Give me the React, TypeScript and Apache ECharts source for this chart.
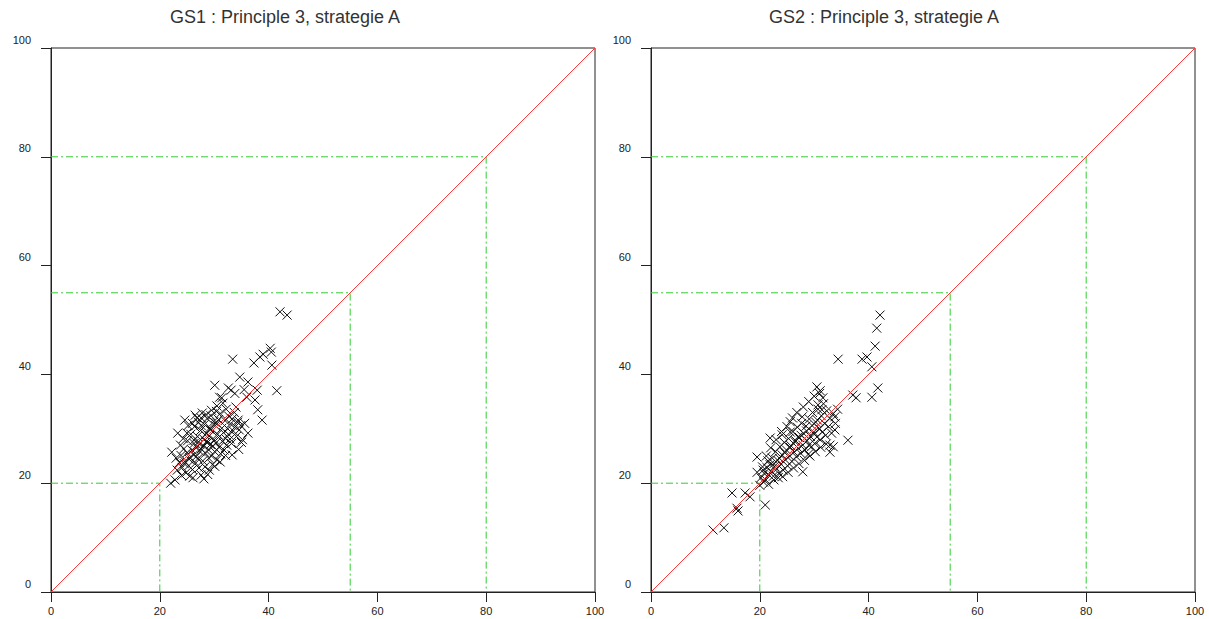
import React, { useEffect, useRef } from "react";
import * as echarts from "echarts";

const titles = ["GS1 : Principle 3, strategie A", "GS2 : Principle 3, strategie A"];
const tickValues = [0, 20, 40, 60, 80, 100];
const guideLevels = [20, 55, 80];

const gs1Points: number[][] = [
  [42.1, 51.5], [43.4, 50.9], [40.3, 44.8], [40.5, 44.1], [39.0, 43.7], [38.4, 43.2], [37.3, 42.1], [33.4, 42.8],
  [40.6, 41.7], [41.5, 37.0], [34.7, 39.5], [36.2, 38.6], [37.9, 37.1], [36.0, 35.8], [37.5, 35.3], [38.0, 33.5],
  [38.8, 31.6], [34.4, 31.6], [30.1, 38.0], [31.4, 35.7], [32.6, 37.5], [33.1, 37.1], [31.0, 35.8], [33.8, 36.5],
  [35.5, 37.2], [34.0, 34.0], [33.3, 25.2],
  [22.0, 20.0], [22.8, 20.6], [23.2, 22.4], [23.6, 23.8], [23.9, 25.1], [24.1, 22.9], [24.4, 26.3], [24.6, 24.0],
  [24.8, 21.9], [25.0, 25.6], [25.1, 27.8], [25.3, 23.2], [25.5, 24.7], [25.7, 29.0], [25.9, 26.1], [26.0, 22.5],
  [26.1, 21.0], [26.2, 25.2], [26.3, 27.3], [26.4, 30.4], [26.5, 32.5], [26.6, 23.7], [26.8, 26.6], [26.9, 28.6],
  [27.0, 24.5], [27.1, 31.2], [27.2, 22.8], [27.3, 27.2], [27.4, 25.8], [27.5, 29.7], [27.6, 32.0], [27.8, 32.9],
  [27.9, 24.1], [28.0, 26.9], [28.1, 28.1], [28.2, 30.8], [28.3, 23.0], [28.4, 25.5], [28.5, 27.6], [28.6, 29.1],
  [28.7, 31.9], [28.8, 21.6], [28.9, 26.2], [29.0, 24.6], [29.1, 28.7], [29.2, 30.2], [29.3, 27.1], [29.4, 32.4],
  [29.5, 25.0], [29.6, 29.6], [29.7, 23.4], [29.8, 26.8], [29.9, 31.3], [30.0, 28.0], [30.1, 25.8], [30.2, 30.6],
  [30.3, 27.4], [30.4, 33.2], [30.5, 24.3], [30.6, 29.0], [30.8, 31.7], [30.9, 26.6], [31.0, 28.6], [31.1, 32.8],
  [31.2, 25.4], [31.4, 30.1], [31.5, 27.7], [31.6, 34.7], [31.7, 29.3], [31.8, 26.1], [32.0, 31.5], [32.1, 28.2],
  [32.2, 33.6], [32.3, 27.0], [32.5, 30.0], [32.6, 29.0], [32.7, 32.3], [32.9, 28.1], [33.0, 30.9], [33.2, 27.3],
  [33.3, 31.8], [33.5, 29.6], [33.7, 33.0], [33.9, 30.4], [34.1, 28.6], [34.3, 31.2], [34.6, 29.8], [34.9, 30.6],
  [35.2, 28.0], [35.6, 31.0], [36.2, 29.2], [23.3, 29.2], [25.0, 29.2], [24.6, 31.6], [22.2, 25.7], [23.8, 27.0],
  [24.3, 28.2], [25.2, 30.6], [26.0, 31.0], [26.8, 32.0], [27.6, 30.6], [28.5, 32.6], [29.5, 33.4], [30.5, 34.2],
  [23.0, 24.6], [24.0, 21.4], [25.5, 21.3], [27.6, 21.5], [28.1, 20.8], [29.1, 22.4], [30.1, 23.1], [31.1, 23.9],
  [32.1, 25.1], [35.0, 27.5], [34.5, 26.2], [26.3, 27.9], [27.1, 27.6], [28.3, 28.9], [29.2, 29.9], [30.4, 31.1],
  [27.6, 26.3], [25.4, 24.4], [24.5, 23.6], [26.7, 24.9], [28.8, 27.5],
];

const gs2Points: number[][] = [
  [42.1, 50.9], [41.5, 48.5], [41.2, 45.2], [34.4, 42.8], [38.8, 42.8], [39.7, 43.2], [40.6, 41.4], [41.7, 37.5],
  [40.6, 35.8], [37.1, 36.2], [37.7, 35.7], [36.2, 27.9], [30.5, 37.7], [31.1, 37.0], [31.6, 35.7], [30.7, 34.4],
  [33.8, 32.2], [33.8, 29.8], [32.9, 27.0], [27.9, 22.1], [19.5, 24.8], [14.9, 18.2], [17.3, 18.2], [18.2, 17.5],
  [16.0, 14.9], [15.8, 15.4], [21.0, 16.0], [11.4, 11.4], [13.4, 11.8], [21.9, 28.3], [24.1, 28.9], [25.6, 31.3],
  [27.8, 32.2], [25.6, 29.4], [27.0, 28.5], [19.5, 22.0], [20.6, 22.4], [31.4, 33.5], [32.9, 25.7], [33.5, 26.7],
  [20.2, 21.0], [20.5, 23.0], [20.8, 21.8], [21.1, 20.6], [21.3, 22.9], [21.5, 24.1], [21.7, 21.5], [21.9, 23.4],
  [22.1, 22.2], [22.3, 24.6], [22.5, 21.3], [22.7, 23.1], [22.9, 25.8], [23.1, 22.6], [23.3, 24.2], [23.5, 21.8],
  [23.7, 26.7], [23.9, 23.5], [24.1, 25.2], [24.3, 22.4], [24.5, 27.5], [24.7, 24.3], [24.9, 26.1], [25.1, 23.2],
  [25.3, 28.2], [25.5, 25.0], [25.7, 26.9], [25.9, 24.0], [26.1, 29.5], [26.3, 25.7], [26.5, 27.6], [26.7, 24.9],
  [26.9, 30.3], [27.1, 26.4], [27.3, 28.4], [27.5, 25.5], [27.7, 31.0], [27.9, 27.0], [28.1, 29.1], [28.3, 26.1],
  [28.5, 30.5], [28.7, 27.8], [28.9, 25.3], [29.1, 31.8], [29.3, 28.6], [29.5, 26.7], [29.7, 33.0], [29.9, 29.4],
  [30.1, 27.3], [30.3, 31.2], [30.5, 28.5], [30.7, 33.6], [30.9, 30.0], [31.1, 28.0], [31.3, 32.4], [31.5, 29.4],
  [31.7, 34.6], [31.9, 31.0], [32.1, 28.8], [32.3, 33.3], [32.6, 30.4], [32.9, 31.9], [33.2, 29.2], [33.5, 32.8],
  [33.9, 31.0], [34.3, 33.6], [22.0, 26.5], [21.2, 25.0], [23.0, 28.0], [24.0, 29.5], [25.0, 30.4], [26.0, 32.0],
  [26.8, 33.0], [28.0, 34.0], [29.0, 35.0], [30.0, 36.0], [31.0, 36.5], [20.0, 19.6], [20.7, 20.2], [21.6, 19.8],
  [22.6, 20.6], [23.4, 21.0], [24.2, 21.2], [25.2, 22.0], [26.2, 22.8], [27.2, 23.6], [28.2, 24.2], [29.2, 25.0],
  [30.2, 25.8], [31.2, 26.6], [32.2, 27.2], [28.6, 29.6], [29.6, 30.6], [30.6, 31.6], [27.6, 28.8], [26.6, 27.8],
  [25.6, 26.6], [24.6, 25.6], [23.6, 24.6], [22.6, 23.6], [29.0, 27.0], [30.0, 29.0], [31.0, 30.0],
];

const datasets = [gs1Points, gs2Points];

export default function App() {
  const ref = useRef<HTMLDivElement>(null);

  useEffect(() => {
    if (!ref.current) return;
    const chart = echarts.init(ref.current, null, { renderer: "svg" });
    const axisColor = "#222";
    const font = "Liberation Sans, Arial, sans-serif";
    const grids = [
      { left: 51, top: 48, width: 544, height: 544 },
      { left: 651, top: 48, width: 544, height: 544 },
    ].map((g) => ({ ...g, show: true, borderColor: axisColor, borderWidth: 1, backgroundColor: "transparent" }));

    const mkAxis = (gridIndex: number, isY: boolean) => ({
      type: "value",
      gridIndex,
      min: tickValues[0],
      max: tickValues[tickValues.length - 1],
      interval: 20,
      axisLine: { show: true, onZero: false, lineStyle: { color: axisColor, width: 1 } },
      axisTick: { show: true, inside: false, length: 10, lineStyle: { color: axisColor, width: 1 } },
      splitLine: { show: false },
      axisLabel: isY
        ? { color: "#222", fontSize: 11, margin: 20, fontFamily: font, verticalAlign: "bottom", padding: [0, 0, 3, 0] }
        : { color: "#222", fontSize: 11, margin: 13, fontFamily: font },
    });

    const series: any[] = [];
    datasets.forEach((pts, i) => {
      guideLevels.forEach((v) => {
        series.push({
          type: "line",
          xAxisIndex: i,
          yAxisIndex: i,
          data: [[0, v], [v, v], [v, 0]],
          symbol: "none",
          silent: true,
          z: 2,
          lineStyle: { color: "#33cc33", width: 1, type: [7, 3, 2, 3] },
        });
      });
      series.push({
        type: "scatter",
        xAxisIndex: i,
        yAxisIndex: i,
        data: pts,
        symbol: "path://M0 0L10 10M10 0L0 10",
        symbolSize: 9,
        silent: true,
        z: 3,
        itemStyle: { color: "rgba(0,0,0,0)", borderColor: "#111", borderWidth: 1, opacity: 1 },
      });
      series.push({
        type: "line",
        xAxisIndex: i,
        yAxisIndex: i,
        data: [[0, 0], [100, 100]],
        symbol: "none",
        silent: true,
        z: 4,
        itemStyle: { color: "#ff3333" },
        lineStyle: { color: "#ff3333", width: 1 },
      });
    });

    chart.setOption({
      animation: false,
      backgroundColor: "#fff",
      grid: grids,
      xAxis: [mkAxis(0, false), mkAxis(1, false)],
      yAxis: [mkAxis(0, true), mkAxis(1, true)],
      graphic: [
        { type: "text", left: 170, top: 8, style: { text: titles[0], fontSize: 18, fill: "#333", fontFamily: font } },
        { type: "text", left: 769, top: 8, style: { text: titles[1], fontSize: 18, fill: "#333", fontFamily: font } },
      ],
      series,
    });
    return () => chart.dispose();
  }, []);

  return <div ref={ref} style={{ position: "absolute", left: 0, top: 0, width: 1209, height: 619 }} />;
}
